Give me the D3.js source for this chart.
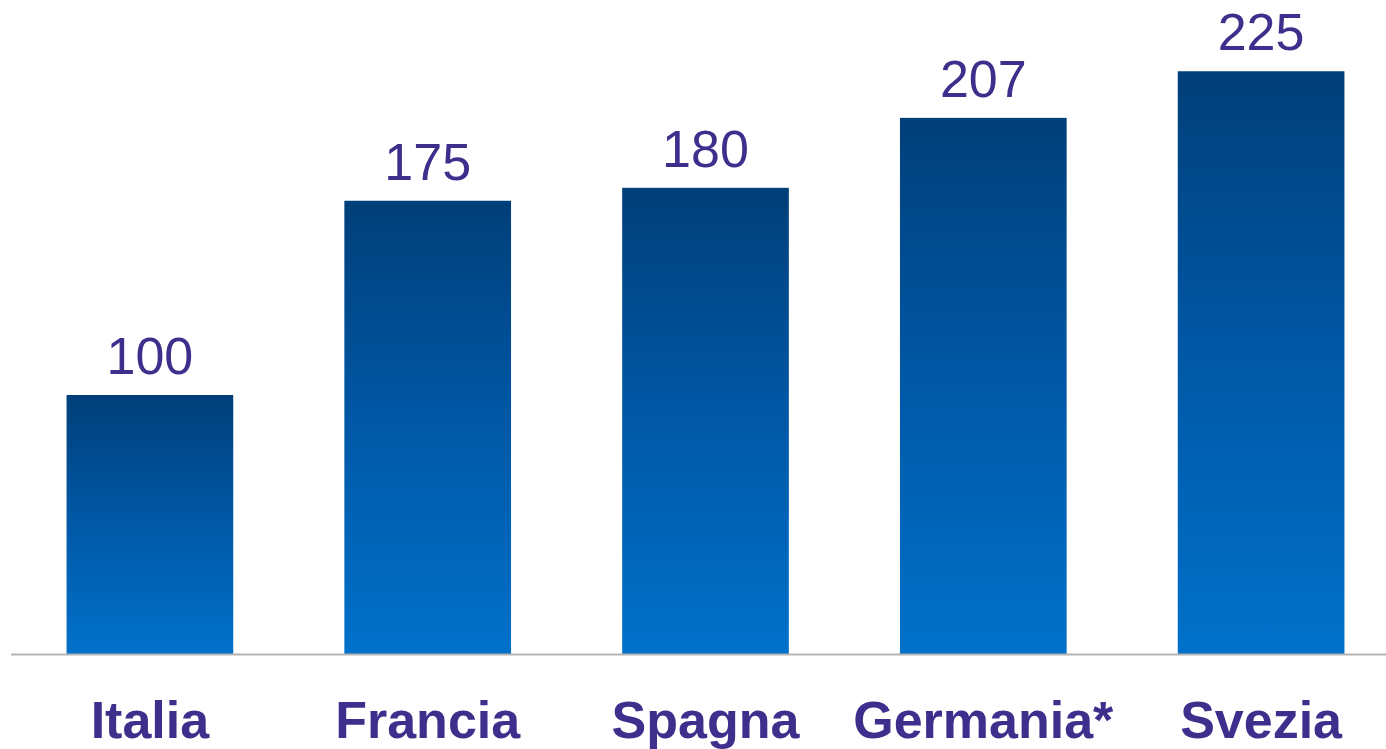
<!DOCTYPE html>
<html><head><meta charset="utf-8">
<script src="https://cdn.jsdelivr.net/npm/d3@7"></script>
<style>html,body{margin:0;padding:0;background:#fff;overflow:hidden}</style>
</head><body>
<svg id="c" width="1386" height="749"></svg>
<script>
const categories = ["Italia","Francia","Spagna","Germania*","Svezia"];
const values = [100,175,180,207,225];

const W=1386,H=749;
const svg=d3.select("#c");
const baseY=654;
const x=d3.scaleBand().domain(categories).range([11,1400]).paddingInner(0.4).paddingOuter(0.2);
const y=d3.scaleLinear().domain([0,100]).range([baseY,395]);

const defs=svg.append("defs");
const g=defs.append("linearGradient").attr("id","bg").attr("x1",0).attr("y1",0).attr("x2",0).attr("y2",1);
g.append("stop").attr("offset","0%").attr("stop-color","#003f79");
g.append("stop").attr("offset","45%").attr("stop-color","#0056a3");
g.append("stop").attr("offset","100%").attr("stop-color","#0071ca");

svg.selectAll("rect.bar").data(values).enter().append("rect").attr("class","bar")
 .attr("x",(d,i)=>x(categories[i])).attr("width",x.bandwidth())
 .attr("y",d=>y(d)).attr("height",d=>baseY-y(d)).attr("fill","url(#bg)");

svg.append("line").attr("x1",11).attr("x2",W).attr("y1",baseY+0.5).attr("y2",baseY+0.5)
 .attr("stroke","#b4b4b4").attr("stroke-width",2);

svg.selectAll("text.val").data(values).enter().append("text").attr("class","val")
 .attr("x",(d,i)=>x(categories[i])+x.bandwidth()/2).attr("y",d=>y(d)-21)
 .attr("text-anchor","middle").attr("font-family","Liberation Sans, Arial, sans-serif")
 .attr("font-size",52).attr("fill","#3e2f8d").text(d=>d);

svg.selectAll("text.cat").data(categories).enter().append("text").attr("class","cat")
 .attr("x",d=>x(d)+x.bandwidth()/2).attr("y",738)
 .attr("text-anchor","middle").attr("font-family","Liberation Sans, Arial, sans-serif")
 .attr("font-weight","bold").attr("font-size",52).attr("fill","#3e2f8d").text(d=>d);
</script>
</body></html>
